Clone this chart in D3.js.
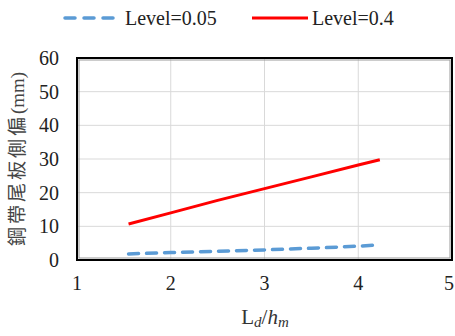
<!DOCTYPE html>
<html>
<head>
<meta charset="utf-8">
<script src="https://cdn.jsdelivr.net/npm/d3@7"></script>
<style>
  body { margin: 0; background: #fff; }
  text { font-family: "Liberation Serif", "DejaVu Serif", serif; fill: #222; }
</style>
</head>
<body>
<div id="chart"></div>
<script>
const xTicks = [1, 2, 3, 4, 5];
const yTicks = [0, 10, 20, 30, 40, 50, 60];
const ratio = [1.55, 2.0, 2.5, 3.0, 3.5, 4.0, 4.23];
const level005 = [1.8, 2.2, 2.6, 3.0, 3.5, 4.1, 4.5];
const level04 = [10.7, 14.0, 17.7, 21.2, 24.7, 28.2, 29.8];

const W = 455, H = 336;
const margin = {left: 77, right: 3, top: 58, bottom: 76};

const svg = d3.select('#chart').append('svg')
    .attr('width', W)
    .attr('height', H);

const x = d3.scaleLinear().domain([1, 5]).range([margin.left, W - margin.right]);
const y = d3.scaleLinear().domain([0, 60]).range([H - margin.bottom, margin.top]);

// grid
svg.append('g').selectAll('line').data(yTicks.slice(1, -1)).enter().append('line')
    .attr('x1', x(1)).attr('x2', x(5))
    .attr('y1', d => y(d)).attr('y2', d => y(d))
    .attr('stroke', '#d9d9d9').attr('stroke-width', 1);
svg.append('g').selectAll('line').data(xTicks.slice(1, -1)).enter().append('line')
    .attr('y1', y(0)).attr('y2', y(60))
    .attr('x1', d => x(d)).attr('x2', d => x(d))
    .attr('stroke', '#d9d9d9').attr('stroke-width', 1);

// frame (double line look)
svg.append('rect')
    .attr('x', x(1)).attr('y', y(60))
    .attr('width', x(5) - x(1)).attr('height', y(0) - y(60))
    .attr('fill', 'none').attr('stroke', '#000').attr('stroke-width', 2);
svg.append('rect')
    .attr('x', x(1) + 2).attr('y', y(60) + 2)
    .attr('width', x(5) - x(1) - 4).attr('height', y(0) - y(60) - 4)
    .attr('fill', 'none').attr('stroke', '#999').attr('stroke-width', 1);

// tick labels
svg.append('g').selectAll('text').data(yTicks).enter().append('text')
    .attr('x', 59).attr('y', d => y(d) + 7)
    .attr('text-anchor', 'end')
    .attr('font-size', 20)
    .text(d => d);
svg.append('g').selectAll('text').data(xTicks).enter().append('text')
    .attr('x', d => Math.min(x(d), W - 6)).attr('y', 290)
    .attr('text-anchor', 'middle')
    .attr('font-size', 20)
    .text(d => d);

// series
const line = (vals) => d3.line().x((d, i) => x(ratio[i])).y(d => y(d))(vals);
svg.append('path')
    .attr('d', line(level005))
    .attr('fill', 'none').attr('stroke', '#5b9bd5').attr('stroke-width', 3.5)
    .attr('stroke-dasharray', '10,8').attr('stroke-linecap', 'round');
svg.append('path')
    .attr('d', line(level04))
    .attr('fill', 'none').attr('stroke', '#ff0000').attr('stroke-width', 3);

// legend
const leg = svg.append('g');
leg.append('line').attr('x1', 65).attr('x2', 120).attr('y1', 18).attr('y2', 18)
    .attr('stroke', '#5b9bd5').attr('stroke-width', 3.5)
    .attr('stroke-dasharray', '10,9').attr('stroke-linecap', 'round');
leg.append('text').attr('x', 125).attr('y', 25).attr('font-size', 20).text('Level=0.05');
leg.append('line').attr('x1', 252).attr('x2', 308).attr('y1', 18).attr('y2', 18)
    .attr('stroke', '#ff0000').attr('stroke-width', 3);
leg.append('text').attr('x', 312).attr('y', 25).attr('font-size', 20).text('Level=0.4');

// axis titles
const yt = svg.append('text')
    .attr('transform', 'translate(24,159) rotate(-90)')
    .attr('text-anchor', 'middle')
    .attr('font-size', 19)
    .style('fill', '#444');
yt.append('tspan')
    .style('font-family', '"Noto Sans CJK TC", serif')
    .attr('letter-spacing', 3)
    .text('鋼帶尾板側偏');
yt.append('tspan').text('(mm)');

const xt = svg.append('text')
    .attr('x', 265).attr('y', 324)
    .attr('text-anchor', 'middle')
    .attr('font-size', 21)
    .style('fill', '#333');
xt.append('tspan').text('L');
xt.append('tspan').attr('font-style', 'italic').attr('font-size', 15).attr('dy', 3).text('d');
xt.append('tspan').attr('dy', -3).text('/');
xt.append('tspan').attr('font-style', 'italic').text('h');
xt.append('tspan').attr('font-style', 'italic').attr('font-size', 15).attr('dy', 3).text('m');
</script>
</body>
</html>
